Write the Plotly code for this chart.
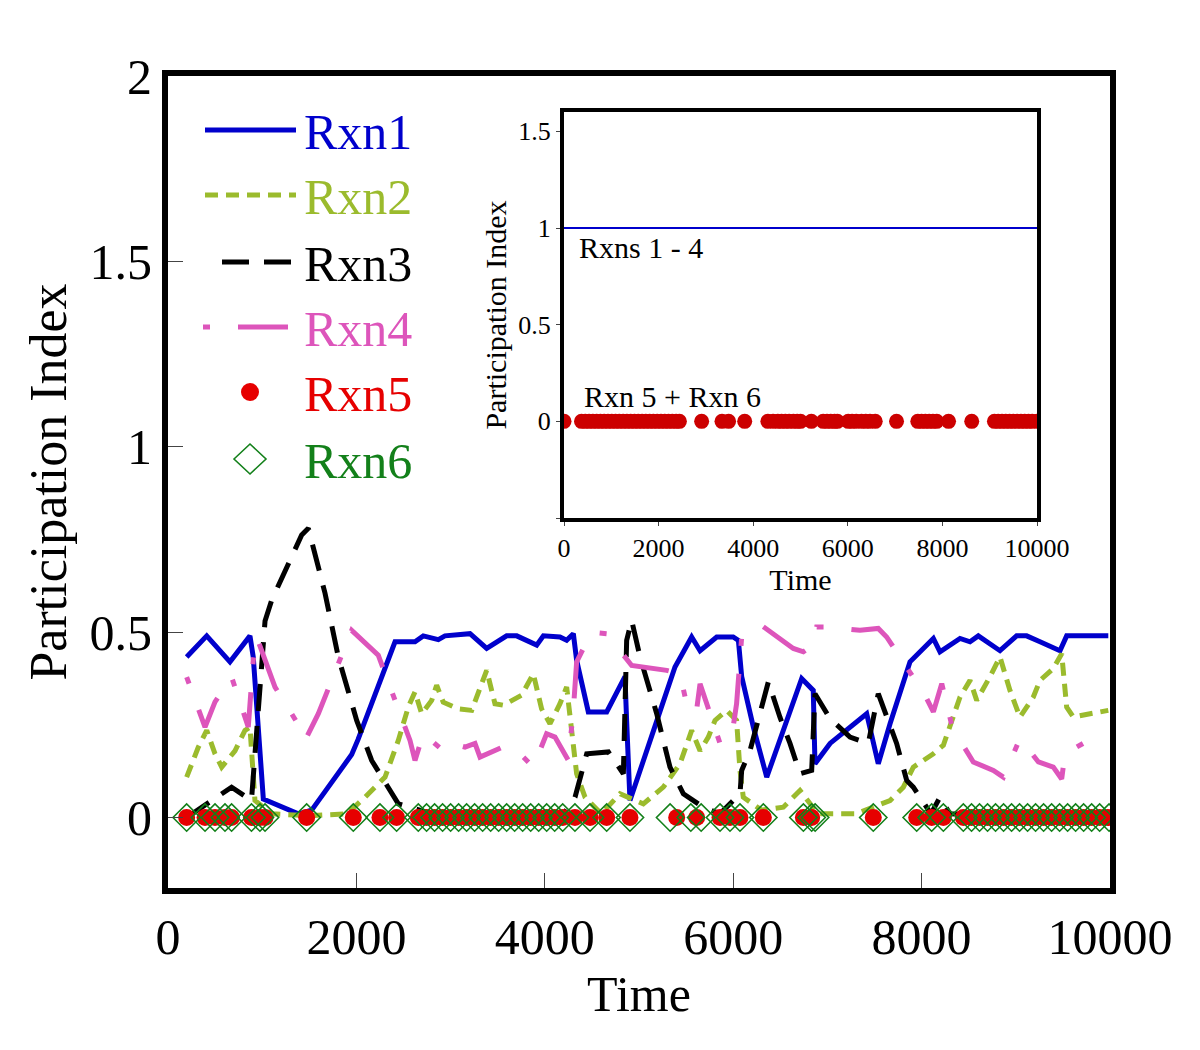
import plotly.graph_objects as go

# ---------------- data ----------------
x1 = [198, 411, 658, 870, 905, 1012, 1383, 1525, 1950, 2017, 2410, 2622, 2710, 2870, 2940,
      3206, 3383, 3595, 3702, 3914, 3985, 4161, 4232, 4303, 4338, 4462, 4657, 4851, 4869, 4904,
      5188, 5382, 5559, 5648, 5825, 6000, 6055, 6090, 6214, 6356, 6727, 6850, 6868, 7028, 7417,
      7540, 7665, 7877, 8125, 8195, 8408, 8514, 8602, 8832, 9009, 9115, 9257, 9469, 9540, 9982]
y1 = [0.433, 0.49, 0.42, 0.49, 0.433, 0.05, 0.01, 0.02, 0.17, 0.21, 0.474, 0.474, 0.49, 0.48, 0.49,
      0.496, 0.456, 0.49, 0.49, 0.465, 0.49, 0.487, 0.478, 0.496, 0.424, 0.285, 0.285, 0.38, 0.26, 0.046,
      0.26, 0.406, 0.487, 0.45, 0.487, 0.487, 0.478, 0.38, 0.244, 0.109, 0.375, 0.343, 0.145, 0.2, 0.28,
      0.145, 0.253, 0.42, 0.483, 0.447, 0.483, 0.474, 0.49, 0.45, 0.49, 0.49, 0.474, 0.45, 0.49, 0.49]

x2 = [198, 322, 411, 499, 570, 711, 817, 870, 923, 1100, 1500, 1900, 2091, 2304, 2445,
      2551, 2622, 2693, 2799, 2852, 2922, 3082, 3224, 3383, 3471, 3560, 3754, 3878, 3966, 4055,
      4161, 4232, 4338, 4427, 4600, 4798, 5046, 5258, 5435, 5559, 5648, 5736, 5807, 5931, 6036,
      6072, 6107, 6300, 6532, 6709, 6900, 7300, 7665, 7806, 7912, 8125, 8231, 8302, 8408, 8514,
      8585, 8726, 8832, 8938, 9044, 9186, 9257, 9398, 9487, 9540, 9611, 9788, 9982]
y2 = [0.109, 0.19, 0.235, 0.172, 0.136, 0.18, 0.235, 0.244, 0.046, 0.01, 0.005, 0.01, 0.055, 0.109, 0.208,
      0.298, 0.339, 0.28, 0.316, 0.357, 0.311, 0.293, 0.289, 0.397, 0.307, 0.303, 0.33, 0.388, 0.293, 0.253,
      0.307, 0.352, 0.118, 0.055, 0.01, 0.064, 0.037, 0.082, 0.145, 0.235, 0.18, 0.217, 0.262, 0.289, 0.262,
      0.127, 0.055, 0.02, 0.028, 0.073, 0.01, 0.01, 0.046, 0.082, 0.136, 0.172, 0.195, 0.244, 0.325, 0.37,
      0.316, 0.38, 0.433, 0.343, 0.271, 0.325, 0.37, 0.402, 0.442, 0.298, 0.271, 0.28, 0.289]

x3 = [198, 463, 675, 886, 1030, 1100, 1419, 1490, 1667, 1808, 2003, 2162, 2445, 2800, 3300,
      3800, 4200, 4321, 4374, 4445, 4675, 4834, 4869, 4922, 5011, 5188, 5329, 5471, 5683, 5860,
      6072, 6090, 6178, 6285, 6373, 6497, 6603, 6709, 6833, 6868, 7028, 7240, 7434, 7540, 7665,
      7735, 7842, 7912, 8100, 8195, 8300, 8800, 9400, 9982]
y3 = [0.0, 0.046, 0.082, 0.046, 0.53, 0.586, 0.762, 0.78, 0.605, 0.433, 0.262, 0.154, 0.037, 0.01, 0.01,
      0.01, 0.01, 0.055, 0.109, 0.172, 0.177, 0.118, 0.478, 0.532, 0.433, 0.28, 0.136, 0.064, 0.028, 0.01,
      0.064, 0.127, 0.18, 0.28, 0.366, 0.27, 0.2, 0.118, 0.127, 0.334, 0.267, 0.217, 0.2, 0.334, 0.253,
      0.2, 0.1, 0.082, 0.01, 0.055, 0.01, 0.005, 0.005, 0.005]

x4 = [198, 393, 499, 675, 852, 905, 941, 1136, 1356, 1454, 1596, 1736, 1950, 2232, 2427, 2569,
      2622, 2710, 2922, 3011, 3153, 3259, 3312, 3453, 3595, 3666, 3878, 4019, 4108, 4250, 4303,
      4338, 4497, 4657, 4798, 4922, 5294, 5435, 5524, 5611, 5648, 5736, 5860, 5984, 6036, 6090,
      6143, 6302, 6638, 6745, 6850, 6886, 7010, 7346, 7540, 7629, 7788, 8036, 8125, 8214, 8317,
      8408, 8549, 8762, 8868, 9044, 9240, 9398, 9487, 9522, 9770, 9982]
y4 = [0.379, 0.244, 0.312, 0.379, 0.244, 0.424, 0.487, 0.352, 0.262, 0.208, 0.28, 0.37, 0.505, 0.438, 0.303, 0.208,
      0.154, 0.226, 0.18, 0.2, 0.19, 0.2, 0.163, 0.18, 0.195, 0.19, 0.136, 0.226, 0.217, 0.154, 0.289,
      0.42, 0.5, 0.496, 0.45, 0.41, 0.397, 0.388, 0.285, 0.289, 0.361, 0.298, 0.2, 0.217, 0.307, 0.487,
      0.505, 0.518, 0.456, 0.447, 0.465, 0.514, 0.514, 0.505, 0.51, 0.487, 0.424, 0.33, 0.285, 0.361, 0.253,
      0.208, 0.15, 0.127, 0.109, 0.213, 0.15, 0.136, 0.104, 0.172, 0.208, 0.204]

x5 = [198, 393, 499, 605, 675, 886, 976, 1030, 1472, 1967, 2250, 2427, 2657, 2745, 2830, 2915,
      3000, 3085, 3170, 3255, 3340, 3425, 3510, 3595, 3680, 3765, 3850, 3935, 4020, 4105, 4190,
      4320, 4480, 4657, 4904, 5400, 5612, 5860, 5966, 6072, 6320, 6745, 6833, 7487, 7948, 8107,
      8231, 8443, 8530, 8615, 8700, 8785, 8870, 8955, 9040, 9125, 9210, 9295, 9380, 9465, 9550,
      9635, 9720, 9805, 9890, 9975]
y5 = [0.0] * len(x5)

x6 = [198, 393, 499, 605, 675, 886, 976, 1030, 1472, 1967, 2250, 2427, 2657, 2745, 2830, 2915,
      3000, 3085, 3170, 3255, 3340, 3425, 3510, 3595, 3680, 3765, 3850, 3935, 4020, 4105, 4190,
      4320, 4480, 4657, 4904, 5330, 5550, 5660, 5860, 5966, 6072, 6320, 6745, 6833, 6870, 7487,
      7948, 8107, 8231, 8443, 8530, 8615, 8700, 8785, 8870, 8955, 9040, 9125, 9210, 9295, 9380,
      9465, 9550, 9635, 9720, 9805, 9890, 9990]
y6 = [0.0] * len(x6)

inset_line_x = [0, 10000]
inset_line_y = [1, 1]
inset_dots_x = [0, 370, 450, 530, 610, 690, 770, 850, 930, 1010, 1090, 1170, 1250, 1330, 1410, 1490,
                1570, 1650, 1730, 1810, 1890, 1970, 2050, 2130, 2210, 2290, 2370, 2440, 2910, 3340,
                3480, 3820, 4310, 4420, 4520, 4600, 4680, 4760, 4850, 4930, 5000, 5230, 5480, 5560,
                5640, 5720, 5780, 6010, 6090, 6180, 6290, 6380, 6470, 6580, 7030, 7480, 7560, 7640,
                7720, 7800, 7880, 8130, 8620, 9100, 9180, 9260, 9340, 9420, 9500, 9580, 9660, 9740,
                9820, 9900, 10000]
inset_dots_y = [0.0] * len(inset_dots_x)

names = ["Rxn1", "Rxn2", "Rxn3", "Rxn4", "Rxn5", "Rxn6"]
colors = ["#0000cc", "#9bbb2d", "#000000", "#dd55bb", "#e60000", "#13801a"]
dashes = ["solid", "13px,8px", "27px,15px", "7px,28px,50px,28px"]
main_xticks = [0, 2000, 4000, 6000, 8000, 10000]
main_xticktext = ["0", "2000", "4000", "6000", "8000", "10000"]
main_yticks = [0, 0.5, 1, 1.5, 2]
main_yticktext = ["0", "0.5", "1", "1.5", "2"]
inset_yticks = [-0.5, 0, 0.5, 1, 1.5]
inset_yticktext = ["", "0", "0.5", "1", "1.5"]

FONT = "Liberation Serif"

fig = go.Figure()
line_data = [(x1, y1), (x2, y2), (x3, y3), (x4, y4)]
for i, (xs, ys) in enumerate(line_data):
    fig.add_trace(go.Scatter(x=xs, y=ys, mode="lines", name=names[i], showlegend=False,
                             line=dict(color=colors[i], width=5, dash=dashes[i])))
fig.add_trace(go.Scatter(x=x5, y=y5, mode="markers", name=names[4], showlegend=False,
                         marker=dict(symbol="circle", size=17, color=colors[4])))
fig.add_trace(go.Scatter(x=x6, y=y6, mode="markers", name=names[5], showlegend=False,
                         marker=dict(symbol="diamond-open", size=21, color=colors[5],
                                     line=dict(width=1.6, color=colors[5]))))

# inset
fig.add_trace(go.Scatter(x=inset_line_x, y=inset_line_y, mode="lines", xaxis="x2", yaxis="y2",
                         showlegend=False, line=dict(color="#0000cc", width=2)))
fig.add_trace(go.Scatter(x=inset_dots_x, y=inset_dots_y, mode="markers", xaxis="x2", yaxis="y2",
                         showlegend=False, marker=dict(symbol="circle", size=15, color="#cc0000")))

# page offset (body margin) compensation
OFF = 8
FIG_W, FIG_H = 1200 - OFF, 1050 - OFF
# plot area in screen px
SL, ST, SR, SB = 168, 76, 1110, 888
W, H = SR - SL, SB - ST
def px(x):
    return (x - SL) / W
def py(y):
    return (SB - y) / H

shapes = []
annotations = []
leg_y = [130, 195, 262, 327, 392, 459]
leg_x0 = [205, 205, 222, 203]
for i in range(4):
    shapes.append(dict(type="line", xref="paper", yref="paper", x0=px(leg_x0[i]), x1=px(296),
                       y0=py(leg_y[i]), y1=py(leg_y[i]),
                       line=dict(color=colors[i], width=5, dash=dashes[i])))
shapes.append(dict(type="circle", xref="paper", yref="paper", x0=px(241), x1=px(259),
                   y0=py(leg_y[4] + 9), y1=py(leg_y[4] - 9),
                   fillcolor=colors[4], line=dict(color=colors[4], width=0)))
cx, cy = 250, leg_y[5]
shapes.append(dict(type="path", xref="paper", yref="paper",
                   path=f"M {px(cx-16)} {py(cy)} L {px(cx)} {py(cy-15)} L {px(cx+16)} {py(cy)} L {px(cx)} {py(cy+15)} Z",
                   line=dict(color=colors[5], width=1.6)))
for i in range(6):
    annotations.append(dict(text=names[i], xref="paper", yref="paper", x=px(302), y=py(leg_y[i] + 2),
                            xanchor="left", yanchor="middle", showarrow=False,
                            font=dict(family=FONT, size=50, color=colors[i])))

annotations.append(dict(text="Rxns 1 - 4", xref="x2", yref="y2", x=270, y=0.9,
                        xanchor="left", yanchor="middle", showarrow=False,
                        font=dict(family=FONT, size=30, color="black")))
annotations.append(dict(text="Rxn 5 + Rxn 6", xref="x2", yref="y2", x=370, y=0.13,
                        xanchor="left", yanchor="middle", showarrow=False,
                        font=dict(family=FONT, size=30, color="black")))

axis_common = dict(showgrid=False, zeroline=False, showline=True, mirror=True, linecolor="black")

fig.update_layout(
    width=FIG_W, height=FIG_H,
    margin=dict(l=SL - OFF, r=FIG_W - (SR - OFF), t=ST - OFF, b=FIG_H - (SB - OFF)),
    paper_bgcolor="white", plot_bgcolor="white",
    font=dict(family=FONT, color="black"),
    xaxis=dict(range=[0, 10000], tickvals=main_xticks, ticktext=main_xticktext, ticks="inside",
               ticklen=15, tickwidth=1, tickcolor="#444444", linewidth=6, tickfont=dict(size=50),
               title=dict(text="Time", font=dict(size=50), standoff=14), **axis_common),
    yaxis=dict(range=[-0.19, 2], tickvals=main_yticks, ticktext=main_yticktext, ticks="inside",
               ticklen=15, tickwidth=1, tickcolor="#444444", linewidth=6, tickfont=dict(size=50),
               title=dict(text="Participation Index", font=dict(size=52), standoff=8), **axis_common),
    xaxis2=dict(domain=[px(564), px(1037)], anchor="y2", range=[0, 10000], tickvals=main_xticks,
                ticktext=main_xticktext,
                ticks="outside", ticklen=4, tickwidth=1, linewidth=4, tickfont=dict(size=26),
                title=dict(text="Time", font=dict(size=30), standoff=0), **axis_common),
    yaxis2=dict(domain=[py(518), py(112)], anchor="x2", range=[-0.5, 1.6], tickvals=inset_yticks,
                ticktext=inset_yticktext, ticks="outside", ticklen=4, tickwidth=1, linewidth=4,
                tickfont=dict(size=26),
                title=dict(text="Participation Index", font=dict(size=30), standoff=4), **axis_common),
    shapes=shapes,
    annotations=annotations,
)

fig.write_html("out.html")
